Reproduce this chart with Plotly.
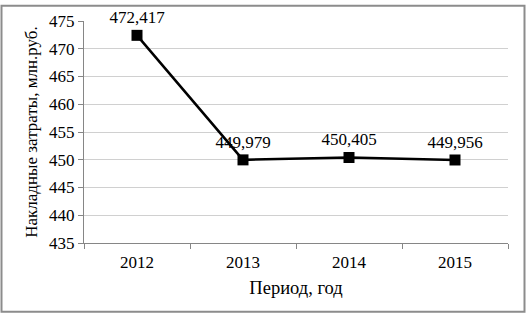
import plotly.graph_objects as go

years = ["2012", "2013", "2014", "2015"]
costs = [472.417, 449.979, 450.405, 449.956]
y_ticks = [435, 440, 445, 450, 455, 460, 465, 470, 475]

font_family = "Liberation Serif"

fig = go.Figure()
fig.add_trace(go.Scatter(
    x=years, y=costs,
    mode="lines+markers+text",
    line=dict(color="black", width=2.5),
    marker=dict(symbol="square", size=11, color="black"),
    texttemplate="%{y:.3f}",
    textposition="top center",
    textfont=dict(family=font_family, size=17, color="black"),
    cliponaxis=False,
    showlegend=False,
))

W, H = 526, 316
ml, mr, mt, mb = 84, 18, 17, 73
pw, ph = W - ml - mr, H - mt - mb

def px_x(p):
    return (p - ml) / pw

def px_y(p):
    return (H - mb - p) / ph

fig.update_layout(
    width=W, height=H,
    margin=dict(l=ml, r=mr, t=mt, b=mb),
    paper_bgcolor="white", plot_bgcolor="white",
    separators=", ",
    font=dict(family=font_family, size=17, color="black"),
    xaxis=dict(
        type="category",
        showgrid=False,
        showline=True, linecolor="#868686", linewidth=1,
        ticks="outside", ticklen=5, tickcolor="#868686",
        tickson="boundaries",
        ticklabelstandoff=4,
        tickfont=dict(family=font_family, size=17),
        title=dict(text="Период, год", font=dict(family=font_family, size=18.5), standoff=9),
        range=[-0.5, 3.5],
    ),
    yaxis=dict(
        range=[435, 475],
        tickvals=y_ticks,
        showgrid=True, gridcolor="#d0d0d0", gridwidth=1,
        showline=True, linecolor="#868686", linewidth=1,
        ticks="outside", ticklen=5, tickcolor="#868686",
        tickfont=dict(family=font_family, size=17),
        title=dict(text="Накладные затраты, млн.руб.", font=dict(family=font_family, size=17), standoff=7),
        zeroline=False,
    ),
    shapes=[dict(
        type="rect", xref="paper", yref="paper",
        x0=px_x(1.5), x1=px_x(524.5), y0=px_y(313), y1=px_y(1.5),
        line=dict(color="#8c8c8c", width=2), fillcolor="rgba(0,0,0,0)",
        layer="above",
    )],
)

fig.write_html("out.html")
